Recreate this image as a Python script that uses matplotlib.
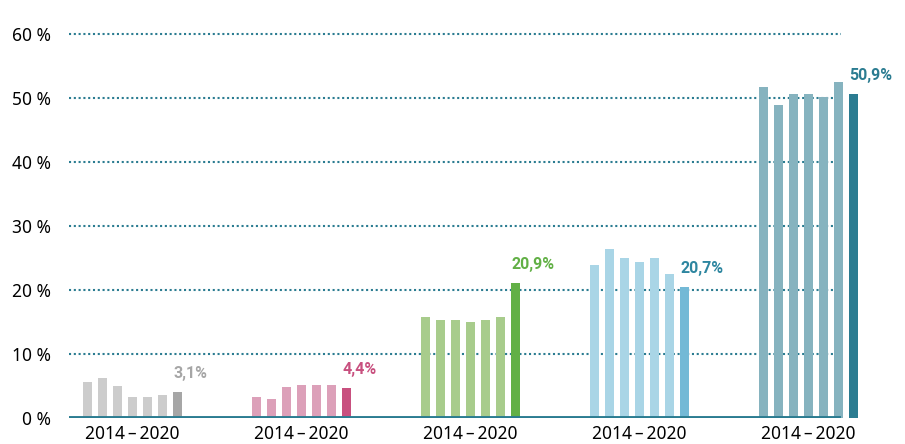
import matplotlib
matplotlib.use("Agg")
import matplotlib.pyplot as plt

plt.rcParams['font.family'] = ['Noto Sans', 'DejaVu Sans']

# values (%), 2014..2020 for each group
gray_vals = [5.6, 6.3, 5.0, 3.3, 3.3, 3.6, 4.0]
pink_vals = [3.3, 3.0, 4.8, 5.2, 5.2, 5.2, 4.7]
green_vals = [15.8, 15.3, 15.3, 15.0, 15.3, 15.8, 21.1]
blue_vals = [23.9, 26.4, 25.0, 24.4, 25.0, 22.5, 20.5]
teal_vals = [51.7, 48.9, 50.6, 50.6, 50.2, 52.5, 50.6]
groups = [gray_vals, pink_vals, green_vals, blue_vals, teal_vals]

value_labels = ['3,1%', '4,4%', '20,9%', '20,7%', '50,9%']
period_label = '2014\u2009\u2013\u20092020'
yticks = [0, 10, 20, 30, 40, 50, 60]

light_colors = ['#cccccc', '#dca0b9', '#a8cc8c', '#a9d5e6', '#86b3bf']
dark_colors = ['#a6a6a6', '#c8507f', '#62b046', '#73b9d6', '#2b7c91']
label_colors = ['#a6a6a6', '#c8507f', '#62b046', '#2e86a0', '#2b7c91']
teal = '#2b7c91'

group_gap = 169 / 15
bar_w = 0.55

fig = plt.figure(figsize=(9.05, 4.44), dpi=100)
ax = fig.add_axes([69 / 905, 26 / 444, (841 - 69) / 905, 384 / 444])

centers = []
for g, vals in enumerate(groups):
    xs = [g * group_gap + i for i in range(len(vals))]
    cols = [light_colors[g]] * (len(vals) - 1) + [dark_colors[g]]
    ax.bar(xs, vals, width=bar_w, color=cols, zorder=3, clip_on=False)
    centers.append((xs[0] + xs[-1]) / 2)
    ax.annotate(value_labels[g], (xs[-1] - bar_w / 2, vals[-1]),
                xytext=(0, 8), textcoords='offset points',
                ha='left', va='bottom', fontsize=11.5, fontweight='bold',
                family=['Roboto', 'DejaVu Sans'],
                color=label_colors[g], annotation_clip=False)

for y in yticks[1:]:
    ax.axhline(y, color=teal, lw=1.5, linestyle=(0, (1, 1.3)), zorder=1, clip_on=False)
ax.axhline(0, color=teal, lw=2.8, zorder=4)

ax.set_xlim(-18.5 / 15, (841 - 87.5) / 15)
ax.set_ylim(0, 60)
ax.set_yticks(yticks)
ax.set_yticklabels([f'{v} %' for v in yticks], fontsize=12.5)
ax.set_xticks(centers)
ax.set_xticklabels([period_label] * len(centers), fontsize=12.5)
ax.tick_params(axis='both', length=0)
ax.tick_params(axis='y', pad=13)
ax.tick_params(axis='x', pad=5)
for s in ax.spines.values():
    s.set_visible(False)

fig.savefig('out.png', dpi=100)
